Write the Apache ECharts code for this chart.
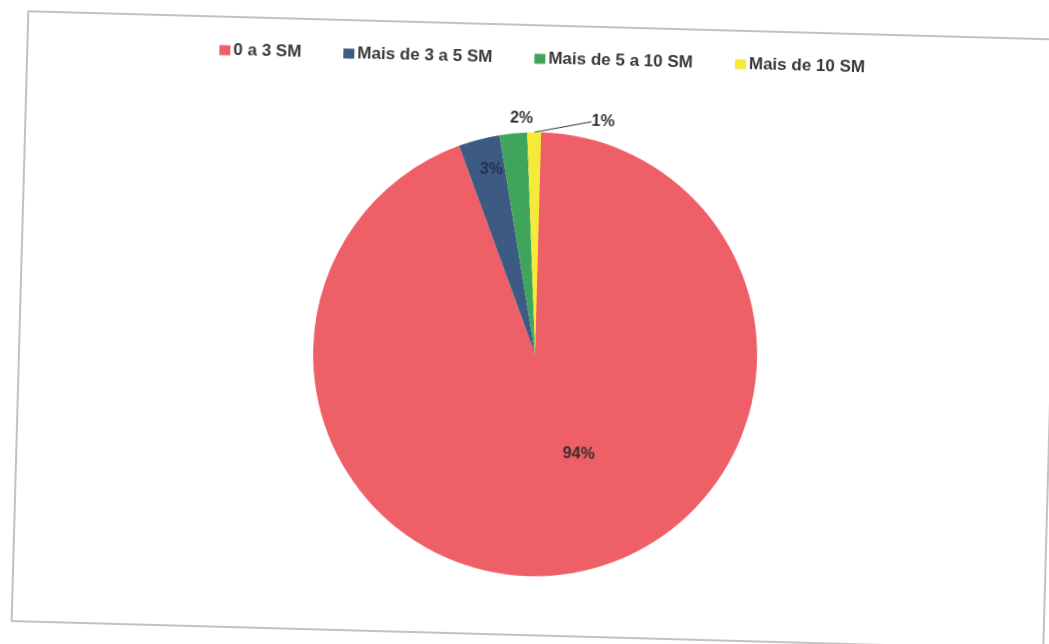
<!DOCTYPE html>
<html>
<head>
<meta charset="utf-8">
<script src="https://cdn.jsdelivr.net/npm/echarts@6/dist/echarts.min.js"></script>
<style>
  html, body { margin: 0; padding: 0; background: #ffffff; overflow: hidden; width: 1049px; height: 644px; }
  /* the printed page sits a little askew */
  #chart {
    position: absolute; left: 0; top: 0; width: 1070px; height: 660px;
    transform: rotate(1.57deg); transform-origin: 524.5px 322px;
  }
</style>
</head>
<body>
<div id="chart"></div>
<script>
// Faixas de renda (salários mínimos) e participação de cada uma (%)
const categories = ['0 a 3 SM', 'Mais de 3 a 5 SM', 'Mais de 5 a 10 SM', 'Mais de 10 SM'];
const values = [94, 3, 2, 1];

const colors = ['#EF5F68', '#3D5A82', '#40A55C', '#F6EA38'];

const PIE_CX = 536, PIE_CY = 354, PIE_R = 222;

// label placement for each slice
const labelPos = ['inside', 'inside', 'outside', 'outside'];
const labelColor = ['#3a2b2d', '#27304a', '#333333', '#333333'];

const data = categories.map((name, i) => ({
  name: name,
  value: values[i],
  label: {
    position: labelPos[i],
    color: labelColor[i]
  },
  labelLine: {
    show: i === 3,
    length: 15,
    length2: 0,
    lineStyle: { color: '#333333', width: 1 }
  }
}));

const chart = echarts.init(document.getElementById('chart'), null, { renderer: 'canvas' });

chart.setOption({
  backgroundColor: '#ffffff',
  animation: false,
  color: colors,
  graphic: [{
    type: 'rect',
    z: -10,
    shape: { x: 20, y: 25, width: 1032, height: 610 },
    style: { fill: 'none', stroke: '#c2c2c2', lineWidth: 2 }
  }],
  legend: {
    data: categories,
    top: 45,
    left: 'center',
    icon: 'rect',
    itemWidth: 11,
    itemHeight: 10,
    itemGap: 42,
    selectedMode: false,
    textStyle: {
      fontFamily: 'Liberation Sans, Arial, sans-serif',
      fontWeight: 'bold',
      fontSize: 17,
      color: '#383838',
      padding: [0, 0, 0, -2]
    }
  },
  series: [{
    type: 'pie',
    center: [PIE_CX, PIE_CY],
    radius: PIE_R,
    startAngle: 90,
    clockwise: true,
    avoidLabelOverlap: false,
    label: {
      show: true,
      fontFamily: 'Liberation Sans, Arial, sans-serif',
      fontWeight: 'bold',
      fontSize: 16,
      formatter: p => Math.round(p.percent) + '%'
    },
    labelLayout: function (p) {
      switch (p.dataIndex) {
        case 0: return { dx: 25, dy: -13 };
        case 1: return { dx: -17, dy: -74 };
        case 2: return { x: PIE_CX - 20, y: PIE_CY - 235, align: 'center', verticalAlign: 'middle' };
        case 3: return { x: PIE_CX + 50, y: PIE_CY - 234, align: 'left', verticalAlign: 'middle' };
      }
    },
    itemStyle: { borderWidth: 0 },
    emphasis: { disabled: true },
    data: data
  }]
});
</script>
</body>
</html>
